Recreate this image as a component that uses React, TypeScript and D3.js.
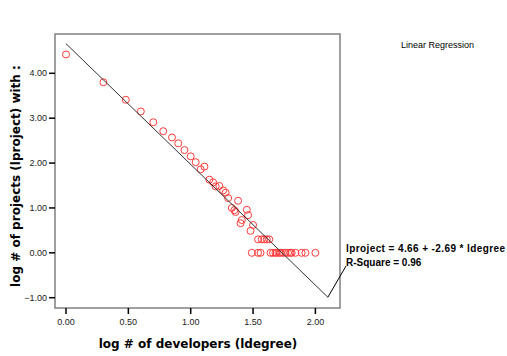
import { scaleLinear, format } from "d3";

// log # of developers (ldegree) / log # of projects (lproject)
const ldegree = [
  0.0, 0.3, 0.48, 0.6, 0.7, 0.78, 0.85, 0.9, 0.95, 1.0, 1.04, 1.08, 1.11, 1.15, 1.18, 1.2,
  1.23, 1.26, 1.28, 1.3, 1.38, 1.33, 1.35, 1.45, 1.36, 1.46, 1.41, 1.4, 1.5, 1.48,
  1.54, 1.57, 1.59, 1.61, 1.63,
  1.49, 1.54, 1.56, 1.64, 1.66, 1.68, 1.69, 1.71, 1.72, 1.74, 1.76, 1.78, 1.8, 1.81, 1.84, 1.89, 1.92, 2.0,
];
const lproject = [
  4.42, 3.8, 3.41, 3.15, 2.91, 2.71, 2.57, 2.44, 2.29, 2.15, 2.02, 1.86, 1.92, 1.63, 1.57, 1.48,
  1.49, 1.39, 1.34, 1.22, 1.16, 1.0, 0.95, 0.96, 0.91, 0.84, 0.73, 0.66, 0.62, 0.49,
  0.3, 0.3, 0.3, 0.3, 0.3,
  0, 0, 0, 0, 0, 0, 0, 0, 0, 0, 0, 0, 0, 0, 0, 0, 0, 0,
];
const xTicks = [0, 0.5, 1, 1.5, 2];
const yTicks = [-1, 0, 1, 2, 3, 4];
const intercept = 4.66;
const slope = -2.69;
const fitRange = [0, 2.1];
const rSquare = 0.96;

const frame = { left: 55, top: 34, right: 340, bottom: 308 };

export default function App() {
  const x = scaleLinear().domain([0, 2]).range([66, 315.4]);
  const y = scaleLinear().domain([-1, 4]).range([297.7, 73.3]);
  const fmt = format(".2f");

  const x1 = x(fitRange[0]);
  const y1 = y(intercept + slope * fitRange[0]);
  const x2 = x(fitRange[1]);
  const y2 = y(intercept + slope * fitRange[1]);

  const labelX = 346;
  const labelY = 266;

  return (
    <svg width={507} height={356} style={{ position: "absolute", left: 0, top: 0, background: "#fff" }}>
      <rect
        x={frame.left}
        y={frame.top}
        width={frame.right - frame.left}
        height={frame.bottom - frame.top}
        fill="none"
        stroke="#808080"
        strokeWidth={1.5}
      />

      {/* y axis */}
      {yTicks.map((t) => (
        <g key={"y" + t}>
          <line x1={frame.left - 6} x2={frame.left} y1={y(t)} y2={y(t)} stroke="#000" strokeWidth={1.5} />
          <text
            x={47}
            y={y(t)}
            dy="0.35em"
            textAnchor="end"
            fontFamily="Liberation Sans, Arial, sans-serif"
            fontSize={9}
            fill="#222"
          >
            {fmt(t)}
          </text>
        </g>
      ))}

      {/* x axis */}
      {xTicks.map((t) => (
        <g key={"x" + t}>
          <line x1={x(t)} x2={x(t)} y1={frame.bottom} y2={frame.bottom + 6} stroke="#000" strokeWidth={1.5} />
          <text
            x={x(t)}
            y={325}
            textAnchor="middle"
            fontFamily="Liberation Sans, Arial, sans-serif"
            fontSize={9}
            fill="#222"
          >
            {fmt(t)}
          </text>
        </g>
      ))}

      <text
        x={198}
        y={348}
        textAnchor="middle"
        fontFamily="DejaVu Sans, Verdana, sans-serif"
        fontWeight="bold"
        fontSize={12}
        fill="#000"
      >
        log # of developers (ldegree)
      </text>
      <text
        transform="translate(20,176) rotate(-90)"
        textAnchor="middle"
        fontFamily="DejaVu Sans, Verdana, sans-serif"
        fontWeight="bold"
        fontSize={12}
        fill="#000"
      >
        log # of projects (lproject) with :
      </text>

      {/* points */}
      {ldegree.map((d, i) => (
        <circle key={i} cx={x(d)} cy={y(lproject[i])} r={3.5} fill="none" stroke="#ff3b3b" strokeWidth={1} />
      ))}

      {/* fit line */}
      <line x1={x1} y1={y1} x2={x2} y2={y2} stroke="#333" strokeWidth={1} />
      <line x1={x2} y1={y2} x2={labelX} y2={labelY} stroke="#000" strokeWidth={1} />

      <text
        x={labelX}
        y={252}
        fontFamily="Liberation Sans, Arial, sans-serif"
        fontWeight="bold"
        fontSize={10}
        letterSpacing={0.4}
        fill="#000"
      >
        {`lproject = ${intercept.toFixed(2)} + ${slope.toFixed(2)} * ldegree`}
      </text>
      <text
        x={labelX}
        y={265.5}
        fontFamily="Liberation Sans, Arial, sans-serif"
        fontWeight="bold"
        fontSize={10}
        fill="#000"
      >
        {`R-Square = ${rSquare.toFixed(2)}`}
      </text>

      <text x={401} y={48} fontFamily="Liberation Sans, Arial, sans-serif" fontSize={9} fill="#000">
        Linear Regression
      </text>
    </svg>
  );
}
